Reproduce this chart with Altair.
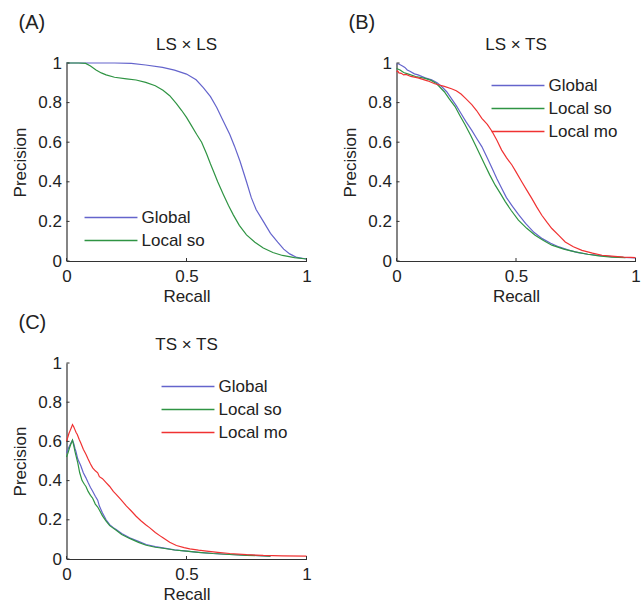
import altair as alt
import pandas as pd

FONT = "Liberation Sans"
TXT = "#222222"

panel_labels = ["(A)", "(B)", "(C)"]
panel_titles = ["LS \u00d7 LS", "LS \u00d7 TS", "TS \u00d7 TS"]
methods = ["Global", "Local so", "Local mo"]
method_colors = ["#6464cc", "#2f9443", "#f03232"]

y_tick_values = [0, 0.2, 0.4, 0.6, 0.8, 1]
x_tick_values = [0, 0.5, 1]

# ---- Panel A: LS x LS ----
a_global_recall = [0, 0.1, 0.2, 0.27, 0.33, 0.40, 0.45, 0.5, 0.54, 0.57, 0.60, 0.626, 0.65, 0.68, 0.70, 0.723,
                   0.75, 0.77, 0.79, 0.82, 0.85, 0.88, 0.905, 0.93, 0.96, 1.0]
a_global_prec = [1, 1, 1, 0.998, 0.99, 0.978, 0.964, 0.944, 0.915, 0.876, 0.83, 0.775, 0.715, 0.64, 0.58, 0.504,
                 0.40, 0.32, 0.26, 0.2, 0.14, 0.095, 0.06, 0.036, 0.018, 0.01]
a_local_so_recall = [0, 0.05, 0.08, 0.1, 0.123, 0.145, 0.165, 0.2, 0.25, 0.29, 0.33, 0.37, 0.402, 0.43, 0.458,
                     0.48, 0.5, 0.52, 0.542, 0.563, 0.584, 0.6, 0.612, 0.63, 0.654, 0.675, 0.695, 0.72, 0.75,
                     0.785, 0.82, 0.86, 0.9, 0.95, 1.0]
a_local_so_prec = [1, 1, 0.998, 0.985, 0.965, 0.95, 0.94, 0.928, 0.92, 0.914, 0.902, 0.885, 0.862, 0.835, 0.795,
                   0.76, 0.725, 0.685, 0.64, 0.6, 0.54, 0.49, 0.455, 0.40, 0.335, 0.28, 0.233, 0.18, 0.132,
                   0.095, 0.066, 0.043, 0.028, 0.017, 0.01]

# ---- Panel B: LS x TS ----
b_global_recall = [0, 0.01, 0.025, 0.035, 0.045, 0.056, 0.075, 0.09, 0.12, 0.147, 0.17, 0.19, 0.21, 0.23, 0.25,
                   0.27, 0.29, 0.315, 0.335, 0.357, 0.38, 0.4, 0.42, 0.44, 0.46, 0.483, 0.51, 0.54, 0.575, 0.61,
                   0.645, 0.68, 0.72, 0.76, 0.8, 0.846, 0.9, 0.95, 1.0]
b_global_prec = [0.995, 0.995, 0.985, 0.978, 0.965, 0.958, 0.945, 0.94, 0.925, 0.915, 0.9, 0.88, 0.855, 0.82,
                 0.785, 0.745, 0.705, 0.66, 0.62, 0.578, 0.52, 0.468, 0.415, 0.367, 0.32, 0.28, 0.235, 0.19,
                 0.145, 0.113, 0.09, 0.071, 0.055, 0.042, 0.034, 0.028, 0.022, 0.018, 0.016]
b_local_so_recall = [0, 0.015, 0.03, 0.05, 0.08, 0.12, 0.145, 0.165, 0.18, 0.2, 0.22, 0.245, 0.265, 0.287, 0.31,
                     0.33, 0.35, 0.37, 0.39, 0.413, 0.435, 0.455, 0.48, 0.51, 0.545, 0.58, 0.615, 0.65, 0.7,
                     0.748, 0.8, 0.846, 0.9, 0.958]
b_local_so_prec = [0.972, 0.965, 0.952, 0.944, 0.932, 0.922, 0.912, 0.898, 0.88, 0.855, 0.82, 0.78, 0.735, 0.688,
                   0.635, 0.586, 0.535, 0.485, 0.435, 0.383, 0.34, 0.3, 0.255, 0.206, 0.165, 0.13, 0.103, 0.08,
                   0.06, 0.046, 0.034, 0.026, 0.02, 0.017]
b_local_mo_recall = [0, 0.005, 0.01, 0.02, 0.03, 0.04, 0.06, 0.09, 0.13, 0.16, 0.175, 0.2, 0.23, 0.25, 0.27, 0.29,
                     0.315, 0.335, 0.357, 0.38, 0.4, 0.42, 0.44, 0.46, 0.483, 0.5, 0.524, 0.545, 0.566, 0.587,
                     0.608, 0.63, 0.65, 0.68, 0.706, 0.74, 0.776, 0.82, 0.86, 0.9, 0.95, 0.98, 1.0]
b_local_mo_prec = [0.955, 0.96, 0.95, 0.948, 0.94, 0.942, 0.932, 0.925, 0.91, 0.895, 0.89, 0.882, 0.87, 0.86,
                   0.843, 0.82, 0.79, 0.76, 0.72, 0.69, 0.654, 0.61, 0.56, 0.522, 0.485, 0.45, 0.4, 0.358, 0.316,
                   0.272, 0.231, 0.195, 0.164, 0.128, 0.096, 0.072, 0.054, 0.04, 0.029, 0.025, 0.02, 0.018, 0.017]

# ---- Panel C: TS x TS ----
c_global_recall = [0, 0.006, 0.012, 0.018, 0.025, 0.03, 0.035, 0.039, 0.047, 0.06, 0.07, 0.081, 0.09, 0.1, 0.109,
                   0.12, 0.13, 0.137, 0.15, 0.165, 0.18, 0.195, 0.207, 0.23, 0.263, 0.3, 0.332, 0.37, 0.402,
                   0.45, 0.5, 0.55, 0.61, 0.68, 0.75, 0.85]
c_global_prec = [0.54, 0.56, 0.575, 0.59, 0.606, 0.59, 0.565, 0.55, 0.51, 0.474, 0.44, 0.414, 0.39, 0.365, 0.346,
                 0.32, 0.3, 0.27, 0.235, 0.2, 0.175, 0.16, 0.15, 0.13, 0.108, 0.09, 0.074, 0.063, 0.057, 0.047,
                 0.04, 0.034, 0.028, 0.023, 0.02, 0.015]
c_local_so_recall = [0, 0.006, 0.012, 0.018, 0.025, 0.03, 0.035, 0.04, 0.047, 0.055, 0.065, 0.075, 0.081, 0.09,
                     0.1, 0.109, 0.12, 0.13, 0.137, 0.15, 0.165, 0.18, 0.207, 0.23, 0.263, 0.3, 0.332, 0.37,
                     0.402, 0.45, 0.5, 0.55, 0.61, 0.68, 0.75, 0.85]
c_local_so_prec = [0.52, 0.54, 0.565, 0.585, 0.606, 0.58, 0.55, 0.525, 0.49, 0.44, 0.4, 0.38, 0.37, 0.345, 0.325,
                   0.31, 0.28, 0.265, 0.25, 0.22, 0.193, 0.17, 0.147, 0.125, 0.105, 0.085, 0.07, 0.06, 0.055,
                   0.046, 0.04, 0.034, 0.028, 0.023, 0.019, 0.015]
c_local_mo_recall = [0, 0.005, 0.01, 0.015, 0.02, 0.025, 0.03, 0.035, 0.04, 0.045, 0.053, 0.06, 0.07, 0.081, 0.09,
                     0.1, 0.109, 0.12, 0.13, 0.137, 0.15, 0.165, 0.18, 0.195, 0.207, 0.225, 0.25, 0.27, 0.29,
                     0.31, 0.33, 0.346, 0.37, 0.39, 0.402, 0.43, 0.458, 0.49, 0.514, 0.55, 0.584, 0.63, 0.68,
                     0.75, 0.82, 0.9, 1.0]
c_local_mo_prec = [0.6, 0.62, 0.64, 0.655, 0.67, 0.686, 0.675, 0.66, 0.645, 0.635, 0.61, 0.59, 0.56, 0.535, 0.51,
                   0.485, 0.465, 0.45, 0.44, 0.42, 0.41, 0.39, 0.37, 0.345, 0.33, 0.305, 0.27, 0.245, 0.218,
                   0.195, 0.175, 0.16, 0.135, 0.118, 0.108, 0.085, 0.069, 0.058, 0.052, 0.045, 0.04, 0.034,
                   0.028, 0.022, 0.018, 0.016, 0.015]


def series_frame(pairs):
    rows = []
    for name, rec, prec in pairs:
        for r, p in zip(rec, prec):
            rows.append({"method": name, "recall": r, "precision": p})
    return pd.DataFrame(rows)


SYM_SIZE = 112
SYM_HALF = 26
SYM_W = 12


def panel(df, label, title, names, width, height, leg_x, leg_y):
    dom = [m for m in methods if m in names]
    rng = [method_colors[methods.index(m)] for m in dom]
    xs = alt.Scale(domain=[0, 1], nice=False)
    ys = alt.Scale(domain=[0, 1], nice=False)
    x_axis = alt.Axis(values=x_tick_values, format="~g", labelOverlap=False)
    y_axis = alt.Axis(values=y_tick_values, format="~g", labelOverlap=False)
    lines = alt.Chart(df).mark_line(strokeWidth=1.2).encode(
        x=alt.X("recall:Q", scale=xs, title="Recall", axis=x_axis),
        y=alt.Y("precision:Q", scale=ys, title="Precision", axis=y_axis),
        color=alt.Color("method:N", scale=alt.Scale(domain=dom, range=rng),
                        legend=alt.Legend(orient="none", legendX=leg_x + SYM_HALF - SYM_W / 2,
                                          legendY=leg_y, title=None,
                                          symbolType="M-5,0H5", symbolSize=SYM_SIZE,
                                          symbolStrokeWidth=1.3,
                                          labelFontSize=17, labelFont=FONT, labelColor=TXT,
                                          labelOffset=SYM_HALF - SYM_W / 2 + 2, rowPadding=5, padding=0)),
        order=alt.Order("recall:Q"),
    )
    yt = alt.Chart(pd.DataFrame({"v": y_tick_values})).mark_rule(color="#333333", strokeWidth=1).encode(
        y=alt.Y("v:Q", scale=ys, title="Precision", axis=y_axis), x=alt.value(0), x2=alt.value(3))
    xt = alt.Chart(pd.DataFrame({"v": x_tick_values})).mark_rule(color="#333333", strokeWidth=1).encode(
        x=alt.X("v:Q", scale=xs, title="Recall", axis=x_axis), y=alt.value(height), y2=alt.value(height - 3))
    lab = alt.Chart(pd.DataFrame({"label": [label]})).mark_text(
        font=FONT, fontSize=20, color=TXT, align="left", baseline="middle").encode(
        x=alt.value(-48), y=alt.value(-40), text="label:N")
    ttl = alt.Chart(pd.DataFrame({"label": [title]})).mark_text(
        font=FONT, fontSize=17, color=TXT, align="center", baseline="middle").encode(
        x=alt.value(width / 2), y=alt.value(-18), text="label:N")
    return alt.layer(lines, yt, xt, lab, ttl).properties(width=width, height=height)


dfA = series_frame([("Global", a_global_recall, a_global_prec),
                    ("Local so", a_local_so_recall, a_local_so_prec)])
dfB = series_frame([("Global", b_global_recall, b_global_prec),
                    ("Local so", b_local_so_recall, b_local_so_prec),
                    ("Local mo", b_local_mo_recall, b_local_mo_prec)])
dfC = series_frame([("Global", c_global_recall, c_global_prec),
                    ("Local so", c_local_so_recall, c_local_so_prec),
                    ("Local mo", c_local_mo_recall, c_local_mo_prec)])

pA = panel(dfA, panel_labels[0], panel_titles[0], ["Global", "Local so"], 240, 198, 16, 146)
pB = panel(dfB, panel_labels[1], panel_titles[1], methods, 239, 198, 93, 14)
pC = panel(dfC, panel_labels[2], panel_titles[2], methods, 240, 196, 93, 15)

top = alt.hconcat(pA, pB, spacing=30).resolve_scale(color="independent", x="independent", y="independent")
chart = alt.vconcat(top, pC, spacing=9).resolve_scale(
    color="independent", x="independent", y="independent"
).properties(
    padding={"left": 11.5, "top": 13, "right": 0, "bottom": 0}, background="white"
).configure_view(stroke=None).configure_axis(
    grid=False, domainColor="#333333", domainWidth=1.2, tickSize=0, ticks=False,
    labelFont=FONT, labelFontSize=17, labelColor=TXT, labelPadding=5,
    titleFont=FONT, titleFontSize=17, titleColor=TXT, titleFontWeight="normal",
    labelFlush=False
).configure_axisX(labelPadding=7, titlePadding=4).configure_axisY(titlePadding=8)

chart.save("out.html", embed_options={"renderer": "svg", "actions": False})
